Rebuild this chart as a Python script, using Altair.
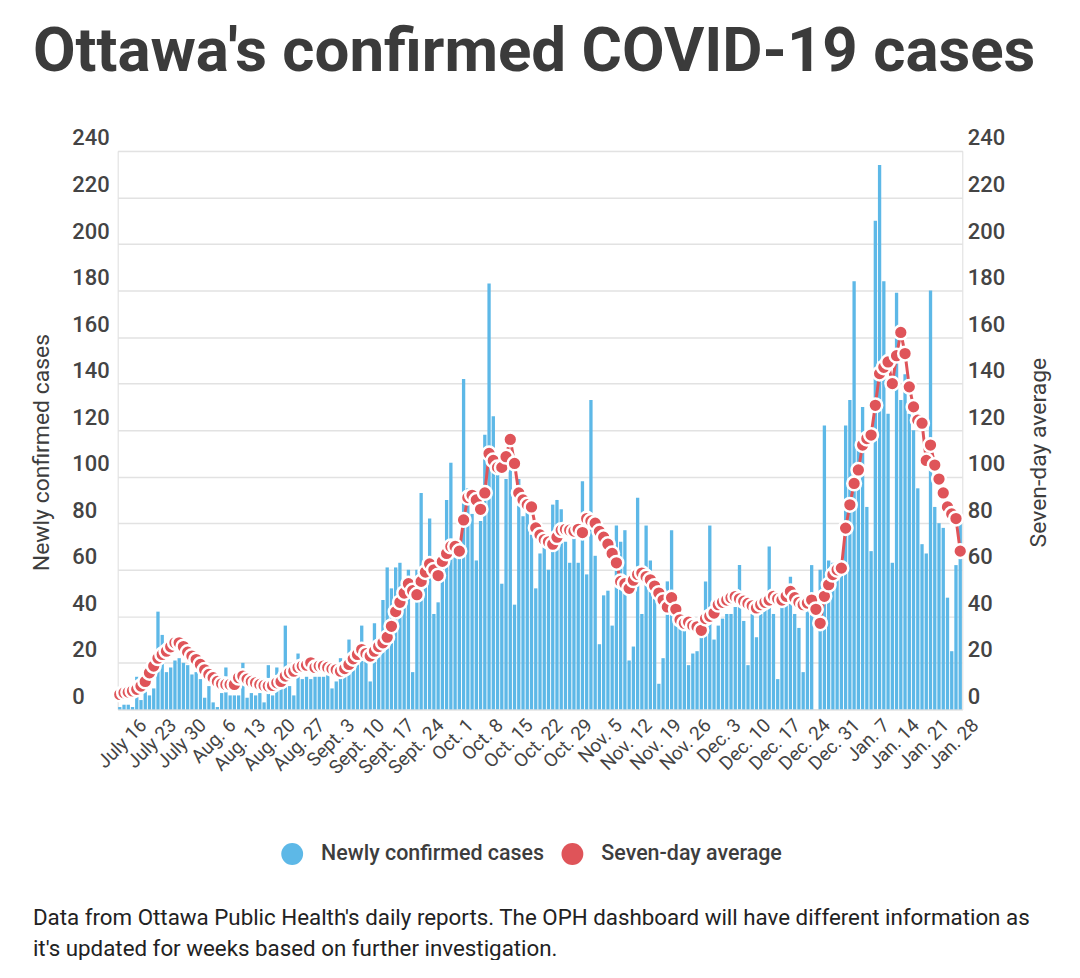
import json
import altair as alt
import pandas as pd

# ---- data ----
# daily newly confirmed cases, 2020-07-14 .. 2021-01-28
new_cases = [
    1, 2, 2, 1, 14, 4, 18,
    6, 9, 42, 32, 16, 18, 21,
    22, 20, 19, 15, 16, 13, 5,
    10, 3, 1, 7, 18, 6, 6,
    6, 20, 5, 7, 6, 7, 3,
    19, 6, 18, 10, 36, 10, 6,
    24, 13, 14, 13, 14, 14, 14,
    16, 9, 12, 22, 14, 30, 19,
    22, 36, 26, 12, 37, 29, 47,
    61, 52, 61, 63, 48, 60, 16,
    60, 93, 57, 82, 41, 46, 63,
    90, 106, 73, 70, 142, 95, 84,
    64, 81, 118, 183, 126, 104, 54,
    99, 109, 45, 99, 83, 90, 75,
    52, 67, 72, 60, 88, 90, 86,
    72, 63, 76, 63, 98, 58, 133,
    66, 28, 49, 51, 36, 79, 72,
    77, 21, 27, 91, 41, 79, 64,
    56, 11, 22, 55, 77, 40, 36,
    35, 19, 24, 25, 41, 55, 79,
    30, 36, 39, 41, 41, 44, 62,
    38, 19, 41, 31, 41, 48, 70,
    41, 13, 44, 52, 57, 41, 35,
    16, 47, 62, 0, 60, 122, 64,
    63, 61, 61, 122, 133, 184, 115,
    130, 87, 68, 210, 234, 184, 127,
    63, 179, 133, 144, 127, 120, 95,
    71, 67, 180, 87, 80, 78, 48,
    25, 62, 80,
]

# seven-day average, same days
seven_day_avg = [
    6.4, 7.1, 7.4, 7.9, 8.6, 10, 12,
    15.7, 18.6, 22, 23.6, 25, 26.9, 28.6,
    28.6, 27, 24.6, 22.9, 21.4, 19.3, 17,
    15, 13.6, 12, 11, 10.7, 10.7, 10.7,
    13.6, 14.3, 13, 12, 11.4, 10.7, 10.3,
    10, 10.3, 11.4, 12, 14.3, 15.7, 16.4,
    18, 18.6, 19, 20, 18, 18.6, 18.6,
    18, 17.4, 17, 16.4, 17.5, 19.3, 21.7,
    23.6, 25.7, 24, 22.9, 25, 27, 28.6,
    31, 35.7, 42, 46, 50, 54, 51,
    49.3, 55, 59, 62.5, 60, 57.5, 63.6,
    67, 70, 70, 68, 81.4, 91, 92,
    90, 86, 93, 110, 107, 104, 104,
    108.6, 116, 105.7, 93, 90, 88, 87,
    78, 75, 73, 72, 71, 74, 77,
    77.4, 77, 76.6, 77.4, 76, 82, 81,
    80, 76.5, 74, 71, 67, 63, 55,
    54, 52, 55.5, 58, 58.6, 57, 55.7,
    53, 50, 47, 44, 48, 43, 38.5,
    37, 37.5, 36, 35.5, 34, 39, 40,
    41.4, 45, 46, 47, 48, 48.5, 47.5,
    46.5, 45.5, 44.5, 43.6, 45, 46, 47,
    48.6, 47.5, 47, 48.6, 50.7, 48, 46,
    45, 45.7, 47, 43, 37, 48.6, 53.6,
    57.9, 60, 60.7, 77.9, 87.9, 97.1, 102.9,
    113.6, 116.4, 117.9, 130.7, 144.3, 147, 149.3,
    140, 152, 162, 152.9, 138.6, 130, 124.3,
    123, 107, 113.6, 105, 99, 93, 87,
    84, 82, 68,
]

tick_dates = [
    "2020-07-16", "2020-07-23", "2020-07-30", "2020-08-06", "2020-08-13",
    "2020-08-20", "2020-08-27", "2020-09-03", "2020-09-10", "2020-09-17",
    "2020-09-24", "2020-10-01", "2020-10-08", "2020-10-15", "2020-10-22",
    "2020-10-29", "2020-11-05", "2020-11-12", "2020-11-19", "2020-11-26",
    "2020-12-03", "2020-12-10", "2020-12-17", "2020-12-24", "2020-12-31",
    "2021-01-07", "2021-01-14", "2021-01-21", "2021-01-28",
]
tick_labels = [
    "July 16", "July 23", "July 30", "Aug. 6", "Aug. 13", "Aug. 20", "Aug. 27",
    "Sept. 3", "Sept. 10", "Sept. 17", "Sept. 24", "Oct. 1", "Oct. 8", "Oct. 15",
    "Oct. 22", "Oct. 29", "Nov. 5", "Nov. 12", "Nov. 19", "Nov. 26", "Dec. 3",
    "Dec. 10", "Dec. 17", "Dec. 24", "Dec. 31", "Jan. 7", "Jan. 14", "Jan. 21",
    "Jan. 28",
]
y_ticks = [0, 20, 40, 60, 80, 100, 120, 140, 160, 180, 200, 220, 240]
series_names = ["Newly confirmed cases", "Seven-day average"]

title_text = "Ottawa's confirmed COVID-19 cases"
footnote_lines = [
    "Data from Ottawa Public Health's daily reports. The OPH dashboard will have different information as",
    "it's updated for weeks based on further investigation.",
]

assert len(new_cases) == len(seven_day_avg) == 199

dates = pd.date_range("2020-07-14", periods=len(new_cases), freq="D").strftime("%Y-%m-%d").tolist()
df = pd.DataFrame({"date": dates, "cases": new_cases, "avg": seven_day_avg,
                   "series": series_names[0]})

BLUE = "#5db8e7"
RED = "#df5459"
FONT = "Roboto"
TXT = "#3d3d3d"

label_expr = f"{json.dumps(tick_labels)}[indexof({json.dumps(tick_dates)}, datum.value)]"

x_enc = alt.X(
    "date:O",
    scale=alt.Scale(paddingInner=0.22, paddingOuter=0.1),
    axis=alt.Axis(values=tick_dates, labelExpr=label_expr, labelAngle=315,
                  labelAlign="right", labelBaseline="top", labelFont=FONT,
                  labelFontSize=19, labelColor="#444", labelPadding=6,
                  labelOffset=9, ticks=False, domain=False, grid=False,
                  title=None, labelOverlap=False),
)

y_left = alt.Y(
    "cases:Q",
    scale=alt.Scale(domain=[0, 240], nice=False),
    axis=alt.Axis(orient="left", values=y_ticks, title="Newly confirmed cases",
                  titleFont=FONT, titleFontSize=23, titleFontWeight="normal",
                  titleColor=TXT, titleAngle=270, titleX=-76, titleY=302,
                  titleAlign="center", titleBaseline="middle",
                  labelFont=FONT, labelFontSize=22, labelFontWeight=500,
                  labelColor="#444", labelAlign="left", labelPadding=46,
                  labelBaseline="alphabetic", labelOffset=-6,
                  ticks=False, domain=False, grid=True, gridColor="#e2e2e2",
                  gridWidth=1.5),
)

y_right = alt.Y(
    "avg:Q",
    scale=alt.Scale(domain=[0, 240], nice=False),
    axis=alt.Axis(orient="right", values=y_ticks, title="Seven-day average",
                  titleFont=FONT, titleFontSize=23, titleFontWeight="normal",
                  titleColor=TXT, titleAngle=270, titleX=76, titleY=302,
                  titleAlign="center", titleBaseline="middle",
                  labelFont=FONT, labelFontSize=22, labelFontWeight=500,
                  labelColor="#444", labelAlign="left", labelPadding=5,
                  labelBaseline="alphabetic", labelOffset=-6,
                  ticks=False, domain=False, grid=False),
)

bars = alt.Chart(df).mark_bar().encode(
    x=x_enc,
    y=y_left,
    color=alt.Color(
        "series:N",
        scale=alt.Scale(domain=series_names, range=[BLUE, RED]),
        legend=alt.Legend(title=None, orient="none", legendX=164, legendY=694,
                          direction="horizontal", symbolType="circle",
                          symbolSize=480, symbolStrokeWidth=0,
                          labelFont=FONT, labelFontSize=21.5, labelFontWeight=500,
                          labelColor=TXT, labelLimit=0,
                          labelOffset=18, columnPadding=17),
    ),
)

line = alt.Chart(df).mark_line(color=RED, strokeWidth=3).encode(x=x_enc, y=y_right)
points = alt.Chart(df).mark_circle(color=RED, size=190, opacity=1, stroke="white",
                                   strokeWidth=2.5).encode(x=x_enc, y=y_right)
avg_layer = alt.layer(line, points)

title_layer = alt.Chart(pd.DataFrame({"t": [title_text]})).mark_text(
    align="left", baseline="alphabetic", font=FONT, fontSize=62,
    fontWeight="bold", color="#3b3b3b"
).encode(text="t:N", x=alt.value(-85), y=alt.value(-80))

foot_layer = alt.Chart(pd.DataFrame({"t": [0]})).mark_text(
    text=footnote_lines, align="left", baseline="alphabetic", font=FONT,
    fontSize=22.4, lineHeight=31, color="#222"
).encode(x=alt.value(-85), y=alt.value(776))

chart = alt.layer(bars, avg_layer, title_layer, foot_layer).resolve_scale(
    y="independent"
).properties(
    width=847, height=560,
    padding={"left": 110, "top": 142, "right": 110, "bottom": 250},
    autosize=alt.AutoSizeParams(type="none"),
).configure_view(stroke=None).configure(font=FONT)

chart.save("out.html", embed_options={"renderer": "svg", "actions": False})
